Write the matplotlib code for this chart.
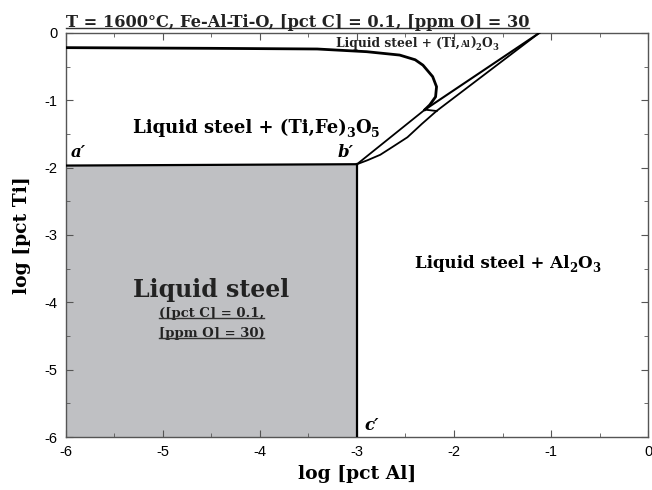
import matplotlib
matplotlib.use("Agg")
import matplotlib.pyplot as plt
from matplotlib.ticker import MultipleLocator
from matplotlib.lines import Line2D
from matplotlib.transforms import ScaledTranslation

# phase boundaries, log [pct Al] vs log [pct Ti]
nose_x = [-6.0, -4.5, -3.41, -2.90, -2.56, -2.40, -2.32, -2.22, -2.18, -2.19, -2.25, -2.30]
nose_y = [-0.22, -0.23, -0.24, -0.28, -0.33, -0.40, -0.48, -0.65, -0.80, -0.95, -1.07, -1.14]

corner_x = [-6.0, -3.0]          # a' -> b'
corner_y = [-1.97, -1.95]
vert_x = [-3.0, -3.0]            # b' -> c'
vert_y = [-1.95, -6.0]

upper_x = [-3.0, -2.30]          # b' -> left junction
upper_y = [-1.95, -1.14]
lower_x = [-3.0, -2.89, -2.76, -2.63, -2.48, -2.33, -2.18]
lower_y = [-1.95, -1.89, -1.81, -1.69, -1.55, -1.35, -1.16]

tie_x = [-2.30, -2.18]
tie_y = [-1.14, -1.16]
wedge_a_x = [-2.30, -1.12]
wedge_a_y = [-1.14, 0.0]
wedge_b_x = [-2.18, -1.12]
wedge_b_y = [-1.16, 0.0]

xticks = [-6, -5, -4, -3, -2, -1, 0]
yticks = [-6, -5, -4, -3, -2, -1, 0]

SERIF = 'DejaVu Serif'

fig = plt.figure(figsize=(6.52, 4.9), dpi=100)
ax = fig.add_axes([0.101, 0.108, 0.893, 0.825])
fig.canvas.draw()
renderer = fig.canvas.get_renderer()


def rich_text(x, y, parts, size, **kw):
    """Draw text pieces side by side, centred on x, baseline at y.
    parts: (string, size scale, baseline shift in em)."""
    pieces = []
    total = 0.0
    for s, scale, dy in parts:
        t = ax.text(x, y, s, fontsize=size * scale, ha='left', va='baseline',
                    family=SERIF, **kw)
        w = t.get_window_extent(renderer).width
        pieces.append((t, w, dy))
        total += w
    pos = -total / 2
    for t, w, dy in pieces:
        t.set_transform(ax.transData + ScaledTranslation(
            pos / fig.dpi, dy * size / 72, fig.dpi_scale_trans))
        pos += w


ax.fill_between(corner_x, [-6.0, -6.0], corner_y, color='#bfc0c3', lw=0, zorder=1)

ax.plot(nose_x, nose_y, color='black', lw=2.0, zorder=3)
ax.plot(corner_x, corner_y, color='black', lw=1.6, zorder=3)
ax.plot(vert_x, vert_y, color='black', lw=1.6, zorder=3)
ax.plot(upper_x, upper_y, color='black', lw=1.3, zorder=3)
ax.plot(lower_x, lower_y, color='black', lw=1.3, zorder=3)
ax.plot(tie_x, tie_y, color='black', lw=1.3, zorder=3)
ax.plot(wedge_a_x, wedge_a_y, color='black', lw=1.5, zorder=3)
ax.plot(wedge_b_x, wedge_b_y, color='black', lw=1.3, zorder=3)

ax.set_xlim(-6, 0)
ax.set_ylim(-6, 0)
ax.set_xticks(xticks)
ax.set_yticks(yticks)
ax.set_xticklabels([str(t) for t in xticks], family='Liberation Sans', fontsize=10.5)
ax.set_yticklabels([str(t) for t in yticks], family='Liberation Sans', fontsize=10.5)
ax.xaxis.set_minor_locator(MultipleLocator(0.5))
ax.yaxis.set_minor_locator(MultipleLocator(0.5))
ax.tick_params(which='both', direction='in', top=True, right=True, color='#555555')
ax.tick_params(which='major', length=5, width=0.8, pad=6)
ax.tick_params(which='minor', length=3, width=0.6)
for sp in ax.spines.values():
    sp.set_color('#555555')
    sp.set_linewidth(1.0)

ax.set_xlabel('log [pct Al]', family=SERIF, fontweight='bold', fontsize=13.5, labelpad=4)
ax.set_ylabel('log [pct Ti]', family=SERIF, fontweight='bold', fontsize=13.5, labelpad=10)

# region labels
rich_text(-4.04, -1.48, [('Liquid steel + (Ti,Fe)', 1, 0), ('3', 0.7, -0.25),
                         ('O', 1, 0), ('5', 0.7, -0.25)], 13, fontweight='bold')
rich_text(-2.38, -0.21, [('Liquid steel + (Ti,', 1, 0), ('Al', 0.7, 0), (')', 1, 0),
                         ('2', 0.7, -0.25), ('O', 1, 0), ('3', 0.7, -0.25)],
          8.8, fontweight='bold', color='#222222')
rich_text(-1.45, -3.49, [('Liquid steel + Al', 1, 0), ('2', 0.7, -0.25),
                         ('O', 1, 0), ('3', 0.7, -0.25)], 12, fontweight='bold')
ax.text(-4.5, -3.82, 'Liquid steel', family=SERIF, fontweight='bold',
        fontsize=17, ha='center', va='center', color='#222222')
sub1 = ax.text(-4.5, -4.16, '([pct C] = 0.1,', family=SERIF, fontweight='bold',
               fontsize=9.5, ha='center', va='center', color='#222222')
sub2 = ax.text(-4.5, -4.46, '[ppm O] = 30)', family=SERIF, fontweight='bold',
               fontsize=9.5, ha='center', va='center', color='#222222')

# point labels
ax.text(-5.95, -1.9, "a′", family=SERIF, fontweight='bold', style='italic',
        fontsize=12, ha='left', va='bottom')
ax.text(-3.2, -1.9, "b′", family=SERIF, fontweight='bold', style='italic',
        fontsize=12, ha='left', va='bottom')
ax.text(-2.92, -5.95, "c′", family=SERIF, fontweight='bold', style='italic',
        fontsize=12, ha='left', va='bottom')

title = fig.text(0.101, 0.945, 'T = 1600°C, Fe-Al-Ti-O, [pct C] = 0.1, [ppm O] = 30',
                 family=SERIF, fontweight='bold', fontsize=11.7, ha='left', va='baseline',
                 color='#222222')

# underline the title and the sub-labels
inv = fig.transFigure.inverted()
for t, off in [(title, 3), (sub1, 2), (sub2, 2)]:
    bb = t.get_window_extent(renderer)
    (x0, y0), (x1, _) = inv.transform([(bb.x0, bb.y0 + off), (bb.x1, bb.y0)])
    fig.add_artist(Line2D([x0, x1], [y0, y0], transform=fig.transFigure,
                          color='#333333', lw=1.0))

fig.savefig('out.png', dpi=100)
